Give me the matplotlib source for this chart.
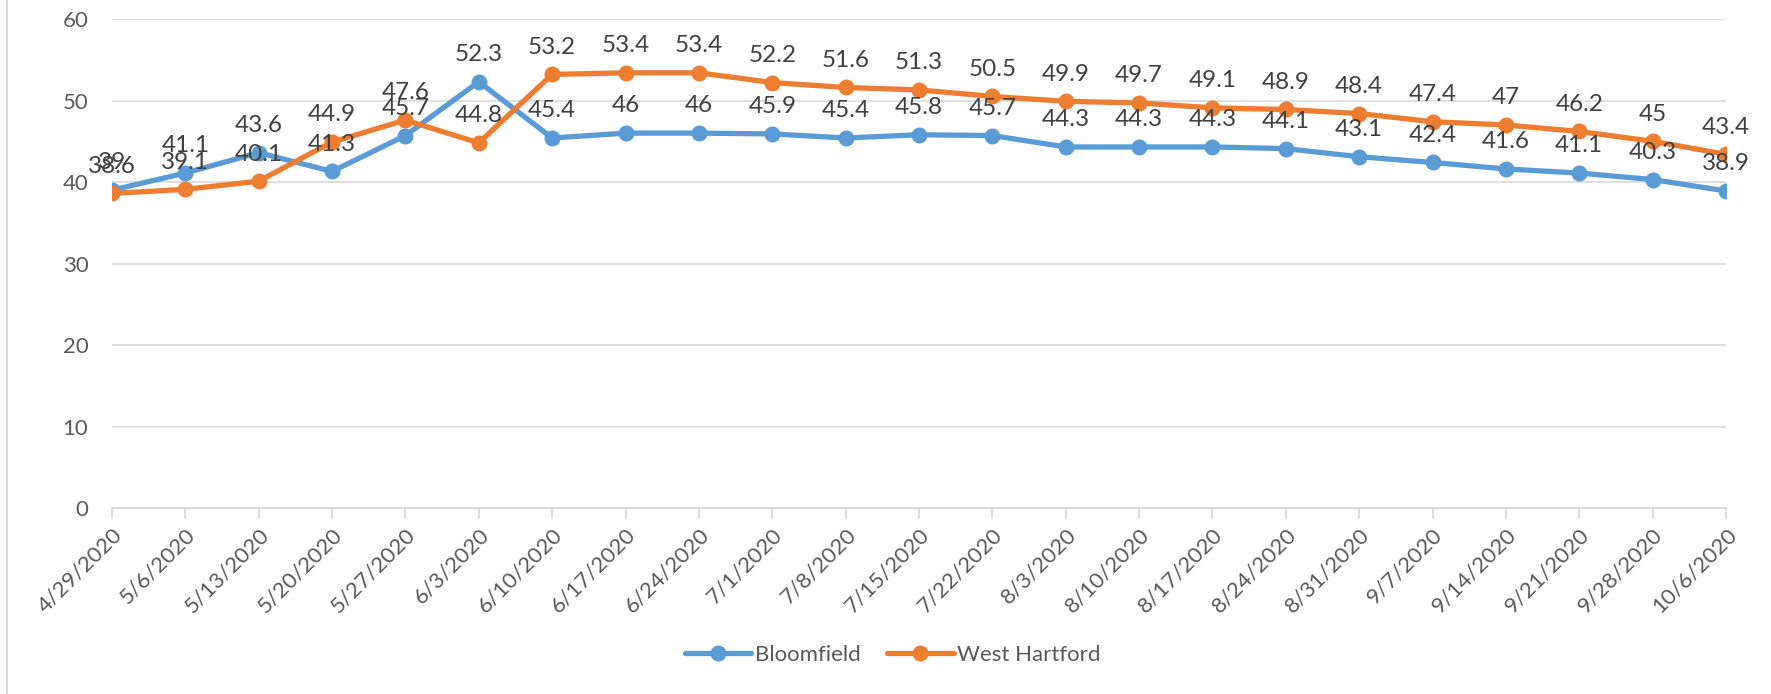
import matplotlib
matplotlib.use("Agg")
import matplotlib.pyplot as plt
from matplotlib.lines import Line2D

dates = ["4/29/2020", "5/6/2020", "5/13/2020", "5/20/2020", "5/27/2020", "6/3/2020",
         "6/10/2020", "6/17/2020", "6/24/2020", "7/1/2020", "7/8/2020", "7/15/2020",
         "7/22/2020", "8/3/2020", "8/10/2020", "8/17/2020", "8/24/2020", "8/31/2020",
         "9/7/2020", "9/14/2020", "9/21/2020", "9/28/2020", "10/6/2020"]
bloomfield = [39, 41.1, 43.6, 41.3, 45.7, 52.3, 45.4, 46, 46, 45.9, 45.4, 45.8,
              45.7, 44.3, 44.3, 44.3, 44.1, 43.1, 42.4, 41.6, 41.1, 40.3, 38.9]
west_hartford = [38.6, 39.1, 40.1, 44.9, 47.6, 44.8, 53.2, 53.4, 53.4, 52.2, 51.6, 51.3,
                 50.5, 49.9, 49.7, 49.1, 48.9, 48.4, 47.4, 47, 46.2, 45, 43.4]
series_names = ["Bloomfield", "West Hartford"]
colors = ["#5B9BD5", "#ED7D31"]

plt.rcParams["font.family"] = ["Lato", "DejaVu Sans"]
text_color = "#595959"

fig = plt.figure(figsize=(17.71, 6.94), dpi=100)
ax = fig.add_axes([0.0632, 0.268, 0.9114, 0.7046])

x = range(len(dates))
for vals, name, c in zip([bloomfield, west_hartford], series_names, colors):
    ax.plot(x, vals, color=c, lw=3.8, marker="o", markersize=10.5, label=name,
            solid_capstyle="round", zorder=3)
    for xi, v in zip(x, vals):
        ax.annotate(f"{v:g}", (xi, v), xytext=(0, 12), textcoords="offset points",
                    ha="center", va="bottom", fontsize=17.5, color="#404040", zorder=4)

ax.set_ylim(0, 60)
ax.set_xlim(0, len(dates) - 1)
ax.set_yticks(range(0, 61, 10))
ax.set_xticks(list(x))
ax.set_xticklabels(dates, rotation=45, ha="right", rotation_mode="anchor")
ax.tick_params(axis="y", length=0, labelsize=16, colors=text_color, pad=17)
ax.tick_params(axis="x", length=8, width=1.2, color="#D9D9D9", labelsize=16,
               colors=text_color, pad=4)
ax.grid(axis="y", color="#D9D9D9", lw=1.2)
ax.set_axisbelow(True)
for s in ["top", "right", "left"]:
    ax.spines[s].set_visible(False)
ax.spines["bottom"].set_color("#D9D9D9")
ax.spines["bottom"].set_linewidth(1.5)

ax.legend(loc="center", bbox_to_anchor=(0.504, 0.056), bbox_transform=fig.transFigure,
          ncol=2, frameon=False, fontsize=16, labelcolor=text_color,
          handlelength=3.0, columnspacing=1.2, handletextpad=0.15)

# chart-area border at left
fig.add_artist(Line2D([0.004, 0.004], [0, 1], transform=fig.transFigure,
                      color="#D9D9D9", lw=1.5))

fig.savefig("out.png", dpi=100)
